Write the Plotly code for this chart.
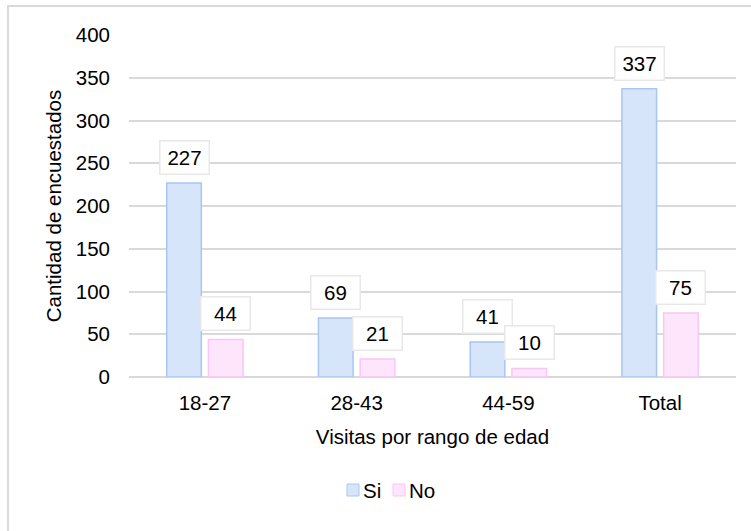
import plotly.graph_objects as go

categories = ["18-27", "28-43", "44-59", "Total"]
si_values = [227, 69, 41, 337]
no_values = [44, 21, 10, 75]
y_ticks = [0, 50, 100, 150, 200, 250, 300, 350, 400]
series_names = ["Si", "No"]

SI_FILL, SI_LINE = "#d7e5fb", "#a9c5f4"
NO_FILL, NO_LINE = "#fde6fb", "#f9c6f5"
FONT = "Liberation Sans, Arial, sans-serif"
FS = 20.5

fig = go.Figure()
fig.add_trace(go.Bar(name=series_names[0], x=categories, y=si_values,
                     marker=dict(color=SI_FILL, line=dict(color=SI_LINE, width=1.5))))
fig.add_trace(go.Bar(name=series_names[1], x=categories, y=no_values,
                     marker=dict(color=NO_FILL, line=dict(color=NO_LINE, width=1.5))))

L, R, T, B = 129, 15, 35, 154
W, H = 751, 531
pw, ph = W - L - R, H - T - B
bargap, bargroupgap = 0.45, 0.17
off = (1 - bargap) / 4  # offset of each bar center in category units


def px_x(px):
    return (px - L) / pw


def px_y(py):
    return (H - B - py) / ph


annotations = []
for i, (s, n) in enumerate(zip(si_values, no_values)):
    for val, dx in ((s, -off), (n, off)):
        annotations.append(dict(
            x=i + dx, y=val, xref="x", yref="y", text=str(val),
            showarrow=False, yanchor="bottom", yshift=8,
            font=dict(family=FONT, size=FS, color="#000000"),
            bgcolor="white", bordercolor="#e8e8e8", borderwidth=1.5,
            borderpad=5, width=38, height=22))

shapes = [dict(type="rect", xref="paper", yref="paper",
               x0=px_x(8), x1=px_x(W + 10), y0=px_y(H + 10), y1=px_y(6),
               line=dict(color="#d9d9d9", width=2), fillcolor="rgba(0,0,0,0)", layer="below")]

# manual legend
legend_items = [(series_names[0], SI_FILL, SI_LINE, 347), (series_names[1], NO_FILL, NO_LINE, 393)]
for name, fill, line, sx in legend_items:
    shapes.append(dict(type="rect", xref="paper", yref="paper",
                       x0=px_x(sx), x1=px_x(sx + 12), y0=px_y(496), y1=px_y(484),
                       line=dict(color=line, width=1), fillcolor=fill))
    annotations.append(dict(x=px_x(sx + 14), y=px_y(490), xref="paper", yref="paper",
                            text=name, showarrow=False, xanchor="left", yanchor="middle",
                            font=dict(family=FONT, size=FS, color="#000000")))

fig.update_layout(
    width=W, height=H,
    margin=dict(l=L, r=R, t=T, b=B),
    paper_bgcolor="white", plot_bgcolor="white",
    font=dict(family=FONT, size=FS, color="#000000"),
    barmode="group", bargap=bargap, bargroupgap=bargroupgap,
    showlegend=False,
    annotations=annotations,
    shapes=shapes,
)
fig.update_xaxes(
    title=dict(text="Visitas por rango de edad", standoff=17, font=dict(size=FS)),
    showline=False, showgrid=False, ticks="", tickfont=dict(size=FS),
    ticklabelstandoff=11,
)
fig.update_yaxes(
    title=dict(text="Cantidad de encuestados", standoff=8, font=dict(size=FS)),
    range=[0, 400], tickvals=y_ticks, showgrid=True, gridcolor="#d9d9d9", gridwidth=1.5,
    zeroline=True, zerolinecolor="#d9d9d9", zerolinewidth=1.5,
    showline=False, ticks="", tickfont=dict(size=FS), ticklabelstandoff=18,
)

fig.write_html("out.html")
